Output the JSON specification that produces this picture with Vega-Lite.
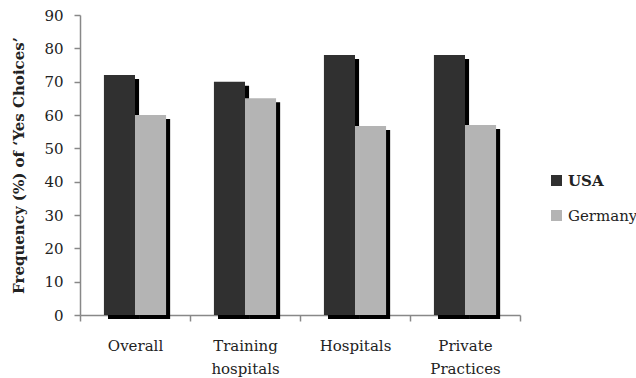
{
  "$schema": "https://vega.github.io/schema/vega-lite/v6.json",
  "autosize": {"type": "none"},
  "width": 440,
  "height": 300,
  "padding": {"left": 80, "top": 15, "right": 116, "bottom": 63},
  "background": "white",
  "config": {"view": {"stroke": null}, "font": "DejaVu Serif"},
  "data": {"values": [
    {"category": "Overall", "country": "USA", "value": 72},
    {"category": "Overall", "country": "Germany", "value": 60},
    {"category": "Training hospitals", "country": "USA", "value": 70},
    {"category": "Training hospitals", "country": "Germany", "value": 65},
    {"category": "Hospitals", "country": "USA", "value": 78},
    {"category": "Hospitals", "country": "Germany", "value": 56.7},
    {"category": "Private Practices", "country": "USA", "value": 78},
    {"category": "Private Practices", "country": "Germany", "value": 57}
  ]},
  "encoding": {
    "x": {
      "field": "category", "type": "nominal",
      "sort": ["Overall", "Training hospitals", "Hospitals", "Private Practices"],
      "scale": {"paddingInner": 0, "paddingOuter": 0},
      "axis": {
        "title": null, "labelAngle": 0, "labelExpr": "split(datum.label, ' ')",
        "labelFont": "DejaVu Serif", "labelFontSize": 15, "labelColor": "#222",
        "labelLineHeight": 23, "labelPadding": 17, "tickBand": "extent",
        "tickSize": 6, "tickColor": "#888", "domainColor": "#888", "domainWidth": 1.5, "tickWidth": 1.5
      }
    },
    "y": {
      "field": "value", "type": "quantitative",
      "scale": {"domain": [0, 90], "nice": false},
      "axis": {
        "title": "Frequency (%) of ‘Yes Choices’", "values": [0,10,20,30,40,50,60,70,80,90],
        "grid": false, "tickSize": 6, "tickColor": "#888", "domainColor": "#888", "domainWidth": 1.5, "tickWidth": 1.5,
        "labelFont": "DejaVu Serif", "labelFontSize": 15, "labelColor": "#222", "labelPadding": 11,
        "titleFont": "DejaVu Serif", "titleFontSize": 15, "titleFontWeight": "bold", "titleColor": "#222", "titlePadding": 17
      }
    }
  },
  "resolve": {"scale": {"xOffset": "independent"}},
  "layer": [
    {
      "mark": {"type": "bar", "color": "#000", "yOffset": 4, "y2Offset": -4},
      "encoding": {
        "xOffset": {
          "field": "country", "type": "nominal", "sort": ["USA", "Germany"],
          "scale": {"paddingInner": 0, "paddingOuter": 0.77, "align": 0.585}
        }
      }
    },
    {
      "mark": {"type": "bar"},
      "encoding": {
        "xOffset": {
          "field": "country", "type": "nominal", "sort": ["USA", "Germany"],
          "scale": {"paddingInner": 0, "paddingOuter": 0.77}
        },
        "color": {
          "field": "country", "type": "nominal",
          "scale": {"domain": ["USA", "Germany"], "range": ["#303030", "#b4b4b4"]},
          "legend": {
            "title": null, "orient": "none", "legendX": 469, "legendY": 158,
            "symbolType": "square", "symbolSize": 121, "symbolStrokeWidth": 0,
            "labelFont": "DejaVu Serif", "labelFontSize": 15, "labelColor": "#222",
            "labelOffset": 4, "rowPadding": 19, "padding": 0,
            "encode": {"labels": {"update": {"fontWeight": {"signal": "datum.value === 'USA' ? 'bold' : 'normal'"}}}}
          }
        }
      }
    }
  ]
}
